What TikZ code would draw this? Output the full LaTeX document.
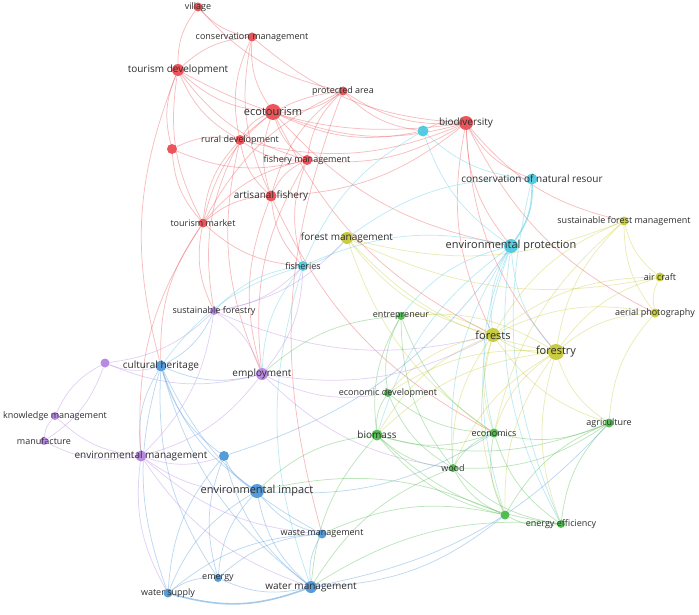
\documentclass[tikz,border=0pt]{standalone}
\usepackage{fontspec}
\setmainfont{Open Sans}
\usetikzlibrary{backgrounds}
\definecolor{cRed}{RGB}{232,72,78}
\definecolor{cYel}{RGB}{196,200,48}
\definecolor{cCya}{RGB}{72,200,224}
\definecolor{cGre}{RGB}{70,184,70}
\definecolor{cBlu}{RGB}{72,148,216}
\definecolor{cPur}{RGB}{178,128,224}
\definecolor{txt}{RGB}{45,45,45}
\tikzset{
  dot/.style={circle,fill=#1,fill opacity=0.92,draw=none,inner sep=0pt},
  lab/.style={text=txt,inner sep=0pt,font=\fontsize{9.0}{10}\selectfont},
  labm/.style={text=txt,inner sep=0pt,font=\fontsize{10.0}{11}\selectfont},
  labl/.style={text=txt,inner sep=0pt,font=\fontsize{11.0}{12}\selectfont},
  edge/.style={draw=#1,line width=0.75pt,draw opacity=0.36,bend right=18},
  thick edge/.style={draw=#1,line width=1.6pt,draw opacity=0.5,bend right=18}
}
\begin{document}
\begin{tikzpicture}[x=1pt,y=-1pt]
\useasboundingbox (0,0) rectangle (699,615);
% ---------- nodes ----------
\node[dot=cRed,minimum size=9pt]  (village)  at (198,7)   {};
\node[dot=cRed,minimum size=9pt]  (consm)    at (252,37)  {};
\node[dot=cRed,minimum size=12pt] (tourdev)  at (178,70)  {};
\node[dot=cRed,minimum size=9pt]  (protarea) at (343,91)  {};
\node[dot=cRed,minimum size=16pt] (eco)      at (273,112) {};
\node[dot=cRed,minimum size=10pt] (ruraldev) at (240,140) {};
\node[dot=cRed,minimum size=10pt] (redx)     at (172,149) {};
\node[dot=cRed,minimum size=10pt] (fishman)  at (307,160) {};
\node[dot=cRed,minimum size=11pt] (artfish)  at (271,196) {};
\node[dot=cRed,minimum size=9pt]  (tourmkt)  at (203,223) {};
\node[dot=cRed,minimum size=14pt] (biodiv)   at (466,123) {};
\node[dot=cCya,minimum size=11pt] (cyanx)    at (423,131) {};
\node[dot=cCya,minimum size=11pt] (cnr)      at (532,179) {};
\node[dot=cCya,minimum size=14pt] (envprot)  at (511,246) {};
\node[dot=cCya,minimum size=10pt] (fisheries) at (303,266) {};
\node[dot=cYel,minimum size=12pt] (forman)   at (347,238) {};
\node[dot=cYel,minimum size=9pt]  (sfm)      at (624,221) {};
\node[dot=cYel,minimum size=9pt]  (aircraft) at (660,277) {};
\node[dot=cYel,minimum size=9pt]  (aerial)   at (655,313) {};
\node[dot=cYel,minimum size=14pt] (forests)  at (493,335) {};
\node[dot=cYel,minimum size=16pt] (forestry) at (556,352) {};
\node[dot=cGre,minimum size=8pt]  (entre)    at (401,316) {};
\node[dot=cGre,minimum size=8pt]  (ecodev)   at (388,393) {};
\node[dot=cGre,minimum size=11pt] (biomass)  at (377,435) {};
\node[dot=cGre,minimum size=9pt]  (economics) at (494,433) {};
\node[dot=cGre,minimum size=9pt]  (agri)     at (609,423) {};
\node[dot=cGre,minimum size=8pt]  (wood)     at (453,468) {};
\node[dot=cGre,minimum size=9pt]  (greenx)   at (505,515) {};
\node[dot=cGre,minimum size=8pt]  (enereff)  at (561,524) {};
\node[dot=cPur,minimum size=8pt]  (susfor)   at (214,311) {};
\node[dot=cPur,minimum size=9pt]  (purpx)    at (105,363) {};
\node[dot=cPur,minimum size=12pt] (employ)   at (262,374) {};
\node[dot=cPur,minimum size=8pt]  (knowman)  at (55,416)  {};
\node[dot=cPur,minimum size=8pt]  (manuf)    at (44,441)  {};
\node[dot=cPur,minimum size=11pt] (envman)   at (141,456) {};
\node[dot=cBlu,minimum size=11pt] (culther)  at (161,366) {};
\node[dot=cBlu,minimum size=10pt] (bluex)    at (224,456) {};
\node[dot=cBlu,minimum size=14pt] (envimp)   at (257,491) {};
\node[dot=cBlu,minimum size=9pt]  (wasteman) at (322,534) {};
\node[dot=cBlu,minimum size=8pt]  (emergy)   at (218,578) {};
\node[dot=cBlu,minimum size=9pt]  (watsup)   at (168,593) {};
\node[dot=cBlu,minimum size=12pt] (watman)   at (311,587) {};
% ---------- edges ----------
\begin{scope}[on background layer]
\foreach \a/\b in {village/consm,village/tourdev,village/protarea,consm/tourdev,consm/eco,consm/ruraldev,consm/artfish,consm/biodiv,
  tourdev/eco,tourdev/ruraldev,tourdev/redx,tourdev/tourmkt,tourdev/fishman,tourdev/biodiv,tourdev/culther,
  eco/ruraldev,eco/protarea,eco/biodiv,eco/fishman,eco/artfish,eco/tourmkt,eco/cyanx,eco/envprot,eco/forests,
  ruraldev/redx,ruraldev/fishman,ruraldev/artfish,ruraldev/tourmkt,ruraldev/biodiv,ruraldev/employ,ruraldev/susfor,
  redx/tourmkt,redx/fishman,protarea/biodiv,protarea/ruraldev,protarea/artfish,protarea/tourmkt,protarea/fishman,protarea/cyanx,protarea/wasteman,
  fishman/artfish,fishman/biodiv,fishman/tourmkt,fishman/fisheries,fishman/employ,
  artfish/tourmkt,artfish/biodiv,artfish/fisheries,artfish/employ,artfish/economics,
  tourmkt/culther,tourmkt/envman,tourmkt/fisheries,tourmkt/susfor,
  biodiv/cyanx,biodiv/cnr,biodiv/envprot,biodiv/forestry,biodiv/forests,biodiv/sfm,biodiv/aerial}
  {\draw[edge=cRed] (\a) to (\b);}
\foreach \a/\b in {cyanx/envprot,cyanx/cnr,cyanx/fisheries,cnr/enereff,cnr/forman,envprot/forests,envprot/forestry,envprot/economics,
  envprot/wood,envprot/entre,envprot/fisheries,envprot/greenx,envprot/enereff,envprot/biomass,fisheries/forman,fisheries/employ,
  fisheries/susfor,fisheries/watman,fisheries/culther}
  {\draw[edge=cCya] (\a) to (\b);}
\draw[thick edge=cCya] (envprot) to (cnr);
\foreach \a/\b in {forman/forests,forman/forestry,forman/sfm,forman/economics,forman/aircraft,sfm/aircraft,sfm/aerial,sfm/forestry,
  sfm/forests,sfm/economics,aircraft/aerial,aircraft/forestry,aircraft/forests,aerial/forestry,aerial/forests,aerial/agri,
  forests/forestry,forests/economics,forests/wood,forests/biomass,forests/entre,forests/ecodev,forests/greenx,forests/agri,
  forestry/economics,forestry/wood,forestry/agri,forestry/greenx,forestry/enereff,forestry/biomass,forestry/entre,forestry/ecodev}
  {\draw[edge=cYel] (\a) to (\b);}
\foreach \a/\b in {entre/ecodev,entre/biomass,entre/economics,entre/wood,entre/employ,ecodev/biomass,ecodev/economics,ecodev/wood,
  biomass/economics,biomass/wood,biomass/agri,biomass/greenx,biomass/enereff,biomass/envimp,biomass/watman,economics/wood,
  economics/agri,economics/greenx,economics/enereff,wood/agri,wood/greenx,wood/enereff,wood/watman,agri/greenx,agri/enereff,
  greenx/enereff,greenx/wasteman,greenx/envimp,enereff/watman}
  {\draw[edge=cGre] (\a) to (\b);}
\foreach \a/\b in {culther/envimp,culther/bluex,culther/watman,culther/wasteman,culther/emergy,culther/watsup,culther/susfor,
  culther/employ,culther/envman,bluex/envimp,bluex/watman,bluex/emergy,bluex/watsup,bluex/envprot,envimp/wasteman,envimp/watman,
  envimp/emergy,envimp/watsup,envimp/economics,wasteman/watman,wasteman/emergy,wasteman/watsup,emergy/watsup,emergy/watman,
  watman/greenx,watman/agri}
  {\draw[edge=cBlu] (\a) to (\b);}
\draw[thick edge=cBlu] (watsup) to (watman);
\foreach \a/\b in {purpx/culther,purpx/knowman,purpx/susfor,purpx/employ,knowman/manuf,knowman/envman,manuf/envman,manuf/purpx,
  envman/employ,envman/susfor,envman/watsup,envman/watman,envman/bluex,envman/wasteman,envman/envimp,employ/susfor,employ/ecodev,
  employ/wood,employ/forests,employ/fisheries,susfor/forman,susfor/fisheries,susfor/forests}
  {\draw[edge=cPur] (\a) to (\b);}
\end{scope}
% ---------- labels ----------
\node[lab]  (l-village)  at (village)  {village};
\node[lab]  (l-consm)    at (consm)    {conservation management};
\node[labm] (l-tourdev)  at (tourdev)  {tourism development};
\node[lab]  (l-protarea) at (protarea) {protected area};
\node[labl] (l-eco)      at (eco)      {ecotourism};
\node[lab]  (l-ruraldev) at (ruraldev) {rural development};
\node[lab]  (l-fishman)  at (fishman)  {fishery management};
\node[labm] (l-artfish)  at (artfish)  {artisanal fishery};
\node[lab]  (l-tourmkt)  at (tourmkt)  {tourism market};
\node[labm] (l-biodiv)   at (biodiv)   {biodiversity};
\node[labm] (l-cnr)      at (cnr)      {conservation of natural resour};
\node[labl] (l-envprot)  at (envprot)  {environmental protection};
\node[lab]  (l-fisheries) at (fisheries) {fisheries};
\node[labm] (l-forman)   at (forman)   {forest management};
\node[lab]  (l-sfm)      at (sfm)      {sustainable forest management};
\node[lab]  (l-aircraft) at (aircraft) {air craft};
\node[lab]  (l-aerial)   at (aerial)   {aerial photography};
\node[labl] (l-forests)  at (forests)  {forests};
\node[labl] (l-forestry) at (forestry) {forestry};
\node[lab]  (l-entre)    at (entre)    {entrepreneur};
\node[lab]  (l-ecodev)   at (ecodev)   {economic development};
\node[labm] (l-biomass)  at (biomass)  {biomass};
\node[lab]  (l-economics) at (economics) {economics};
\node[lab]  (l-agri)     at (agri)     {agriculture};
\node[lab]  (l-wood)     at (wood)     {wood};
\node[lab]  (l-enereff)  at (enereff)  {energy efficiency};
\node[lab]  (l-susfor)   at (susfor)   {sustainable forestry};
\node[labm] (l-employ)   at (employ)   {employment};
\node[lab]  (l-knowman)  at (knowman)  {knowledge management};
\node[lab]  (l-manuf)    at (manuf)    {manufacture};
\node[labm] (l-envman)   at (envman)   {environmental management};
\node[labm] (l-culther)  at (culther)  {cultural heritage};
\node[labl] (l-envimp)   at (envimp)   {environmental impact};
\node[lab]  (l-wasteman) at (wasteman) {waste management};
\node[lab]  (l-emergy)   at (emergy)   {emergy};
\node[lab]  (l-watsup)   at (watsup)   {water supply};
\node[labm] (l-watman)   at (watman)   {water management};
\end{tikzpicture}
\end{document}
